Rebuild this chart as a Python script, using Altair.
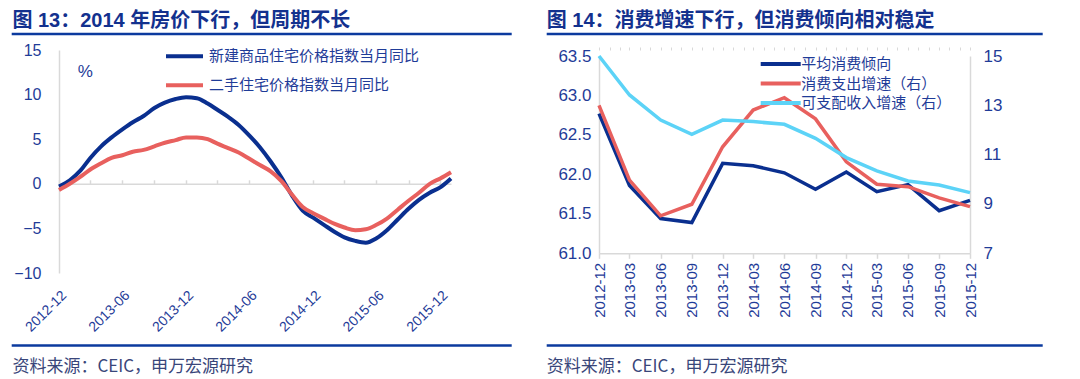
import altair as alt
import pandas as pd

# ---------------- text ----------------
TITLE_L = "图 13：2014 年房价下行，但周期不长"
TITLE_R = "图 14：消费增速下行，但消费倾向相对稳定"
SOURCE = "资料来源：CEIC，申万宏源研究"
UNIT_L = "%"

# ---------------- left panel data (monthly) ----------------
S_NEW = "新建商品住宅价格指数当月同比"
S_OLD = "二手住宅价格指数当月同比"
_all_months = [f"{y}-{m:02d}" for y in range(2012, 2017) for m in range(1, 13)]
LEFT_MONTHS = _all_months[_all_months.index("2012-12"):_all_months.index("2016-01") + 1]
NEW_HOME = [-0.3, 0.4, 1.5, 2.9, 4.2, 5.2, 6.1, 6.9, 7.6, 8.5, 9.1, 9.5, 9.7, 9.6,
            9.0, 8.3, 7.5, 6.6, 5.4, 4.1, 2.5, 0.7, -1.3, -3.0, -3.8, -4.6, -5.4,
            -6.0, -6.4, -6.6, -6.1, -5.2, -4.0, -2.8, -1.8, -1.0, -0.4, 0.6]
SECOND_HAND = [-0.7, 0.0, 0.8, 1.6, 2.3, 2.9, 3.2, 3.6, 3.8, 4.2, 4.6, 4.9, 5.2, 5.2,
               5.0, 4.5, 4.0, 3.5, 2.8, 2.1, 1.4, 0.3, -1.2, -2.6, -3.3, -3.9, -4.5,
               -4.9, -5.2, -5.1, -4.6, -3.9, -2.9, -1.9, -1.0, 0.0, 0.6, 1.3]
LEFT_LABELS = ["2012-12", "2013-06", "2013-12", "2014-06", "2014-12", "2015-06", "2015-12"]
LEFT_TICKS = LEFT_MONTHS[0:37:3]
LEFT_Y_TICKS = [-10, -5, 0, 5, 10, 15]
LEFT_DOMAIN = ["2012-12", "2016-01"]

# ---------------- right panel data (quarterly) ----------------
S_APC = "平均消费倾向"
S_SPEND = "消费支出增速（右）"
S_INCOME = "可支配收入增速（右）"
RIGHT_QUARTERS = ["2012-12", "2013-03", "2013-06", "2013-09", "2013-12", "2014-03", "2014-06",
                  "2014-09", "2014-12", "2015-03", "2015-06", "2015-09", "2015-12"]
APC = [62.77, 61.86, 61.44, 61.39, 62.14, 62.11, 62.02, 61.81, 62.03, 61.78, 61.87, 61.54, 61.67]
SPEND = [13.0, 9.97, 8.52, 8.99, 11.32, 12.81, 13.31, 12.45, 10.71, 9.80, 9.70, 9.25, 8.89]
INCOME = [15.0, 13.42, 12.40, 11.82, 12.40, 12.34, 12.23, 11.66, 10.88, 10.34, 9.93, 9.77, 9.46]
RIGHT_MONTH_TICKS = _all_months[_all_months.index("2012-12"):_all_months.index("2015-12") + 1]
RIGHT_Y_LEFT_TICKS = [61.0, 61.5, 62.0, 62.5, 63.0, 63.5]
RIGHT_Y_RIGHT_TICKS = [7, 9, 11, 13, 15]

# ---------------- styles ----------------
NAVY = "#0A2F8F"
RED = "#E8605E"
CYAN = "#5CD3F7"
LABEL_BLUE = "#1F3C98"
TITLE_BLUE = "#13318E"
RULE_BLUE = "#0B3A9E"
SOURCE_COLOR = "#39467A"
GRAY = "#D9D9D9"
FONT = "Liberation Sans, Noto Sans CJK SC"
CJK = "Noto Sans CJK SC"
# a 40px horizontal stroke drawn with a small symbol size (keeps legend rows tight)
LONG_STROKE = "M-2.5,0L2.5,0"


def dt(s):
    y, m = map(int, s.split("-"))
    return alt.DateTime(year=y, month=m, date=1, utc=True)


def one_row(**kw):
    return pd.DataFrame({k: [v] for k, v in kw.items()})


def text_layer(txt, x, y, size, color, weight="normal", font=FONT, baseline="alphabetic"):
    return alt.Chart(one_row(t=txt)).mark_text(
        align="left", baseline=baseline, fontSize=size, font=font,
        fontWeight=weight, color=color
    ).encode(x=alt.value(x), y=alt.value(y), text="t:N")


def rule_layer(x, x2, y, width, color):
    return alt.Chart(one_row(k=0)).mark_rule(strokeWidth=width, color=color).encode(
        x=alt.value(x), x2=alt.value(x2), y=alt.value(y))


def anchor_layer(x, x2, y, y2):
    return alt.Chart(one_row(k=0)).mark_rule(opacity=0, strokeWidth=1).encode(
        x=alt.value(x), x2=alt.value(x2), y=alt.value(y), y2=alt.value(y2))


BOTTOM = 376
OY = 50.0  # both plot areas start at this page y

# =============== LEFT PANEL ===============
LW, LH = 392, 223
LOX = 58.3

left_df = pd.DataFrame({
    "date": [m + "-01" for m in LEFT_MONTHS] * 2,
    "series": [S_NEW] * len(LEFT_MONTHS) + [S_OLD] * len(LEFT_MONTHS),
    "value": NEW_HOME + SECOND_HAND,
})

x_scale_left = alt.Scale(type="utc", domain=[dt(LEFT_DOMAIN[0]), dt(LEFT_DOMAIN[1])])
y_left = alt.Y("value:Q", scale=alt.Scale(domain=[-10, 15], nice=False, zero=False),
               axis=alt.Axis(values=LEFT_Y_TICKS, title=None, grid=False, ticks=False,
                             domainColor=GRAY, domainWidth=1.5, labelFontSize=16,
                             labelColor=LABEL_BLUE, labelFont=FONT, labelPadding=18))
color_left = alt.Color(
    "series:N",
    scale=alt.Scale(domain=[S_NEW, S_OLD], range=[NAVY, RED]),
    legend=alt.Legend(title=None, orient="none", legendX=105, legendY=-14.3,
                      symbolType="stroke", symbolSize=1369, symbolStrokeWidth=4,
                      labelFontSize=15, labelFont=CJK, labelColor=LABEL_BLUE,
                      rowPadding=0, labelOffset=4, padding=0, labelLimit=400))

x_left_labels = alt.X("date:T", scale=x_scale_left, axis=alt.Axis(
    values=[dt(s) for s in LEFT_LABELS], format="%Y-%m", labelAngle=-45, ticks=False,
    domain=False, grid=False, labelPadding=15, labelFontSize=14, labelColor=LABEL_BLUE,
    labelFont=FONT, title=None, labelFlush=False, labelOverlap=False))
x_left_zero = alt.X("date:T", scale=x_scale_left, axis=alt.Axis(
    orient="top", offset=-LH * 15 / 25, values=[dt(s) for s in LEFT_TICKS], labels=False,
    ticks=True, tickSize=4, tickColor=GRAY, tickWidth=1.5, domain=True, domainColor=GRAY,
    domainWidth=1.5, grid=False, title=None))

base_left = alt.Chart(left_df)
blue_line = base_left.transform_filter(alt.datum.series == S_NEW).mark_line(
    strokeWidth=4, interpolate="monotone").encode(x=x_left_labels, y=y_left, color=color_left)
red_line = base_left.transform_filter(alt.datum.series == S_OLD).mark_line(
    strokeWidth=4, interpolate="monotone").encode(x=x_left_zero, y=y_left, color=color_left)

left = alt.layer(
    anchor_layer(8 - LOX, 520 - LOX, 8 - OY, BOTTOM - OY),
    blue_line,
    red_line,
    text_layer(UNIT_L, 77 - LOX, 71.7 - OY, 17, LABEL_BLUE, baseline="middle"),
    text_layer(TITLE_L, 11.7 - LOX, 27 - OY, 20, TITLE_BLUE, weight="bold"),
    rule_layer(11 - LOX, 511 - LOX, 34 - OY, 2.5, RULE_BLUE),
    rule_layer(11 - LOX, 511 - LOX, 345.5 - OY, 2.5, RULE_BLUE),
    text_layer(SOURCE, 11.7 - LOX, 372 - OY, 17, SOURCE_COLOR, font=CJK),
).resolve_axis(x="independent").properties(width=LW, height=LH)

# =============== RIGHT PANEL ===============
RW = 371
RH = 203.3          # plot area 50 .. 253.3
R_TOP = 6.0         # the highest tick (63.5 / 15) sits 6px below the plot top
ROX = 597.3

right_df = pd.DataFrame({
    "date": [q + "-01" for q in RIGHT_QUARTERS] * 3,
    "series": [S_APC] * 13 + [S_SPEND] * 13 + [S_INCOME] * 13,
    "value": APC + SPEND + INCOME,
})

x_scale_right = alt.Scale(type="utc", domain=[dt(RIGHT_QUARTERS[0]), dt(RIGHT_QUARTERS[-1])])
color_right = alt.Color(
    "series:N",
    scale=alt.Scale(domain=[S_APC, S_SPEND, S_INCOME], range=[NAVY, RED, CYAN]),
    legend=alt.Legend(title=None, orient="none", legendX=171.7, legendY=4,
                      symbolType=LONG_STROKE, symbolSize=256, symbolStrokeWidth=4,
                      labelFontSize=15, labelFont=CJK, labelColor=LABEL_BLUE,
                      rowPadding=1.5, labelOffset=10.5, padding=0, labelLimit=400))

x_right_major = alt.X("date:T", scale=x_scale_right, axis=alt.Axis(
    values=[dt(s) for s in RIGHT_QUARTERS], format="%Y-%m", labelAngle=-90, ticks=True,
    tickSize=5, tickColor=GRAY, tickWidth=1.5, domain=True, domainColor=GRAY, domainWidth=1.5,
    grid=False, labelPadding=4, labelFontSize=15, labelColor=LABEL_BLUE, labelFont=FONT,
    title=None, labelFlush=False, labelOverlap=False))
x_right_minor = alt.X("date:T", scale=x_scale_right, axis=alt.Axis(
    values=[dt(s) for s in RIGHT_MONTH_TICKS], labels=False, ticks=True, tickSize=3,
    tickColor=GRAY, tickWidth=1, domain=False, grid=False, title=None))

base_right = alt.Chart(right_df)
apc_line = base_right.transform_filter(alt.datum.series == S_APC).mark_line(
    strokeWidth=3.5).encode(
    x=x_right_major,
    y=alt.Y("value:Q",
            scale=alt.Scale(domain=[61.0, 63.5], range=[RH, R_TOP], nice=False, zero=False),
            axis=alt.Axis(values=RIGHT_Y_LEFT_TICKS, format=".1f", title=None, grid=False,
                          ticks=False, domainColor=GRAY, domainWidth=1.5, labelFontSize=17,
                          labelColor=LABEL_BLUE, labelFont=FONT, labelPadding=8)),
    color=color_right)
growth_lines = base_right.transform_filter(alt.datum.series != S_APC).mark_line(
    strokeWidth=3.5).encode(
    x=x_right_minor,
    y=alt.Y("value:Q",
            scale=alt.Scale(domain=[7, 15], range=[RH, R_TOP], nice=False, zero=False),
            axis=alt.Axis(values=RIGHT_Y_RIGHT_TICKS, orient="right", title=None, grid=False,
                          ticks=False, domainColor=GRAY, domainWidth=1.5, labelFontSize=17,
                          labelColor=LABEL_BLUE, labelFont=FONT, labelPadding=13)),
    color=color_right)

right = alt.layer(
    anchor_layer(530 - ROX, 1042 - ROX, 8 - OY, BOTTOM - OY),
    apc_line,
    growth_lines,
    text_layer(TITLE_R, 545 - ROX, 27 - OY, 20, TITLE_BLUE, weight="bold"),
    rule_layer(545 - ROX, 1041 - ROX, 34 - OY, 2.5, RULE_BLUE),
    rule_layer(545 - ROX, 1041 - ROX, 345.5 - OY, 2.5, RULE_BLUE),
    text_layer(SOURCE, 545 - ROX, 372 - OY, 17, SOURCE_COLOR, font=CJK),
).resolve_scale(y="independent").resolve_axis(x="independent", y="independent").properties(
    width=RW, height=RH)

chart = alt.hconcat(left, right, spacing=10).resolve_scale(color="independent").properties(
    padding={"left": 0, "top": 0, "right": 0, "bottom": 0}, background="white"
).configure_view(stroke=None)

chart.save("out.html", embed_options={"renderer": "svg", "actions": False})
